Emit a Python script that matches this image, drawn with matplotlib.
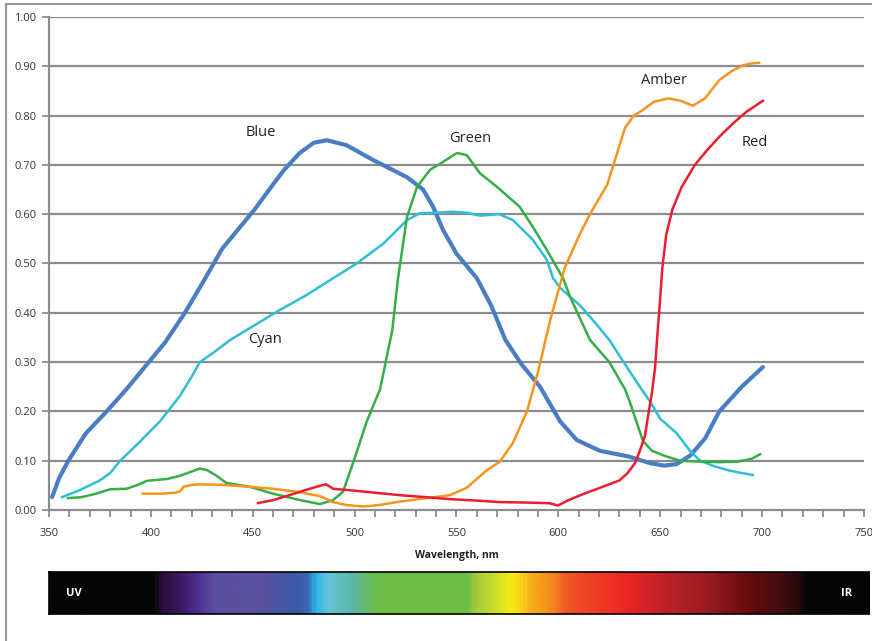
import numpy as np
import matplotlib.pyplot as plt
from matplotlib.colors import LinearSegmentedColormap
from matplotlib.lines import Line2D

plt.rcParams['font.family'] = ['Open Sans', 'DejaVu Sans']

# curve data (wavelength nm, relative output)
blue_x = [351.5, 355, 359.5, 368, 378.3, 388, 397, 407, 416.7, 426, 435, 443, 451, 459, 465.4, 473,
          480, 486.4, 496, 509, 525.7, 533.6, 538.5, 543.4, 550, 560, 567, 574, 582, 591, 600.8,
          609, 620.4, 635, 645, 652, 658, 664.6, 672, 679, 690, 700.4]
blue_y = [0.026, 0.065, 0.10, 0.155, 0.20, 0.245, 0.29, 0.34, 0.40, 0.465, 0.53, 0.57, 0.61, 0.655,
          0.69, 0.724, 0.745, 0.75, 0.74, 0.71, 0.675, 0.65, 0.615, 0.568, 0.52, 0.47, 0.415, 0.345,
          0.295, 0.25, 0.18, 0.142, 0.12, 0.108, 0.095, 0.09, 0.093, 0.11, 0.145, 0.20, 0.25, 0.29]

cyan_x = [356.4, 365, 375, 380, 385, 395, 404.5, 414, 420, 424, 431, 439, 451, 463, 476, 489.4,
          501, 514, 525.7, 532, 540, 548, 555, 561.5, 571, 577.7, 587.5, 594.4, 597.4, 601, 610.6,
          618, 625, 632, 640, 645, 650, 658, 664.6, 669.5, 677, 684, 690, 695.5]
cyan_y = [0.026, 0.04, 0.06, 0.075, 0.10, 0.14, 0.18, 0.23, 0.27, 0.30, 0.32, 0.345, 0.375, 0.405,
          0.435, 0.47, 0.50, 0.54, 0.588, 0.602, 0.603, 0.605, 0.603, 0.597, 0.60, 0.588, 0.548,
          0.507, 0.47, 0.45, 0.415, 0.38, 0.345, 0.30, 0.25, 0.22, 0.185, 0.156, 0.12, 0.10, 0.088,
          0.08, 0.075, 0.071]

green_x = [359.3, 366, 373, 380, 388, 393, 398, 408, 414, 420, 424, 427.5, 432, 437, 448.6, 460,
           473.2, 483, 489.4, 494.3, 499.2, 506, 512.5, 518.5, 521.3, 525.7, 530.6, 537, 543,
           550.2, 555, 561.5, 570, 581, 587.5, 594.4, 602.3, 606, 615.5, 625, 632.7, 635, 641.5,
           646, 652, 659.7, 670, 679, 688, 695, 699]
green_y = [0.024, 0.026, 0.033, 0.042, 0.043, 0.05, 0.059, 0.063, 0.069, 0.078, 0.084, 0.081, 0.07,
           0.055, 0.047, 0.033, 0.02, 0.012, 0.02, 0.037, 0.095, 0.18, 0.245, 0.365, 0.47, 0.594,
           0.655, 0.69, 0.705, 0.724, 0.72, 0.683, 0.655, 0.615, 0.574, 0.527, 0.47, 0.43, 0.345,
           0.30, 0.245, 0.22, 0.14, 0.12, 0.11, 0.10, 0.098, 0.097, 0.098, 0.104, 0.113]

amber_x = [396, 405, 411.8, 414.5, 416, 420, 424, 435, 448.6, 460, 473.2, 483, 489.4, 496, 504.1,
           512, 522.3, 535, 546.8, 555, 565, 571.3, 577.7, 584.6, 590, 596, 603, 610, 615.5, 624,
           632.7, 637, 641, 647, 654, 660, 666, 672, 679, 685, 690.6, 695, 698.5]
amber_y = [0.033, 0.033, 0.035, 0.038, 0.047, 0.051, 0.052, 0.051, 0.047, 0.043, 0.036, 0.028,
           0.016, 0.01, 0.007, 0.01, 0.017, 0.024, 0.03, 0.045, 0.081, 0.098, 0.136, 0.20, 0.28,
           0.385, 0.49, 0.555, 0.60, 0.66, 0.775, 0.80, 0.81, 0.828, 0.835, 0.83, 0.82, 0.835,
           0.872, 0.89, 0.902, 0.906, 0.907]

red_x = [452.6, 460, 468, 473.2, 478, 483, 486, 488, 489.4, 497.7, 510, 522.3, 535, 546.8, 560,
         571.3, 585, 595.9, 599.8, 605, 612, 620.4, 630, 634, 637.6, 640, 642.5, 644, 646, 647.5,
         648.5, 650, 651, 653, 656, 660.5, 667, 673, 679, 686, 692.4, 700.4]
red_y = [0.014, 0.02, 0.03, 0.037, 0.043, 0.049, 0.052, 0.047, 0.043, 0.04, 0.035, 0.03, 0.026,
         0.022, 0.019, 0.016, 0.015, 0.0136, 0.009, 0.02, 0.032, 0.045, 0.06, 0.075, 0.095, 0.12,
         0.15, 0.19, 0.24, 0.29, 0.35, 0.43, 0.49, 0.56, 0.61, 0.655, 0.70, 0.73, 0.757, 0.785,
         0.808, 0.83]

labels = ['Blue', 'Cyan', 'Green', 'Amber', 'Red']
label_x = [454, 456, 556.6, 652, 696.5]
label_y = [0.765, 0.345, 0.753, 0.872, 0.745]

# visible spectrum strip: wavelength stops and colours
spec_nm = [350, 401, 404.5, 414, 422.6, 430.5, 452, 460, 470, 476.6, 480.5, 486.4, 497.7, 511,
           555, 560, 568, 576, 581, 587.5, 594.4, 604, 610.6, 635, 651, 673, 692.6, 712, 720,
           722, 752.5]
spec_col = ['#050505', '#050505', '#2a0f3e', '#3a1a60', '#4e2f95', '#5c4ea0', '#5a50a0', '#4d55a0',
            '#3b58a6', '#3a65b0', '#2ab8ea', '#66c6d8', '#5cb8a8', '#6cbd45', '#6cbd45', '#a7cc3a',
            '#c8da2a', '#f6ea14', '#f9d616', '#f7a71d', '#f7941d', '#f15a24', '#f04a26', '#ec2324',
            '#c0222a', '#9b1c22', '#6b0b0e', '#3a0e10', '#1c0a0c', '#050505', '#050505']

fig = plt.figure(figsize=(8.72, 6.41), dpi=100)
ax = fig.add_axes([0.0562, 0.2044, 0.9346, 0.7691])

grid_c = '#8c8c8c'
for v in np.arange(0.1, 1.01, 0.1):
    ax.axhline(v, color=grid_c, lw=1.6, zorder=1)

ax.plot(blue_x, blue_y, color='#4a7ec4', lw=3.0, solid_joinstyle='round', solid_capstyle='round', zorder=3)
ax.plot(cyan_x, cyan_y, color='#2ebfd5', lw=1.8, solid_joinstyle='round', zorder=3)
ax.plot(green_x, green_y, color='#36ae47', lw=1.8, solid_joinstyle='round', zorder=3)
ax.plot(amber_x, amber_y, color='#f7941e', lw=1.8, solid_joinstyle='round', zorder=3)
ax.plot(red_x, red_y, color='#ed1c2e', lw=1.8, solid_joinstyle='round', zorder=3)

for t, x, y in zip(labels, label_x, label_y):
    ax.text(x, y, t, fontsize=10.5, color='#222222', ha='center', va='center')

ax.set_xlim(350, 750)
ax.set_ylim(0, 1.0)
ax.set_xticks(np.arange(350, 751, 50))
ax.set_xticks(np.arange(350, 751, 10), minor=True)
ax.set_yticks(np.arange(0, 1.01, 0.1))
ax.set_yticklabels(['%.2f' % v for v in np.arange(0, 1.01, 0.1)])
ax.tick_params(axis='both', which='both', colors=grid_c, labelcolor='#333333', labelsize=8, width=1.3)
ax.tick_params(axis='x', which='both', length=5, pad=8)
ax.tick_params(axis='y', length=5, pad=4)
for s in ['top', 'right']:
    ax.spines[s].set_visible(False)
for s in ['left', 'bottom']:
    ax.spines[s].set_color(grid_c)
    ax.spines[s].set_linewidth(1.6)
ax.set_xlabel('Wavelength, nm', fontsize=7.5, fontweight='bold', color='#222222', labelpad=8)

# spectrum bar
sax = fig.add_axes([0.0562, 0.0421, 0.9404, 0.0655])
lo, hi = spec_nm[0], spec_nm[-1]
cmap = LinearSegmentedColormap.from_list(
    'spec', [((n - lo) / (hi - lo), c) for n, c in zip(spec_nm, spec_col)])
sax.imshow(np.linspace(0, 1, 800)[None, :], aspect='auto', cmap=cmap, extent=[lo, hi, 0, 1])
sax.set_xlim(lo, hi)
sax.set_xticks([])
sax.set_yticks([])
for s in sax.spines.values():
    s.set_color('black')
    s.set_linewidth(1.2)
sax.text(0.03, 0.5, 'UV', transform=sax.transAxes, color='white', fontsize=8,
         fontweight='bold', ha='center', va='center')
sax.text(0.972, 0.5, 'IR', transform=sax.transAxes, color='white', fontsize=8,
         fontweight='bold', ha='center', va='center')

# outer frame
fig.add_artist(Line2D([0.0069, 0.0069], [0, 0.9938], color='#9a9a9a', lw=1.5))
fig.add_artist(Line2D([0.0069, 1.0], [0.9938, 0.9938], color='#9a9a9a', lw=1.5))

fig.savefig('out.png', dpi=100)
